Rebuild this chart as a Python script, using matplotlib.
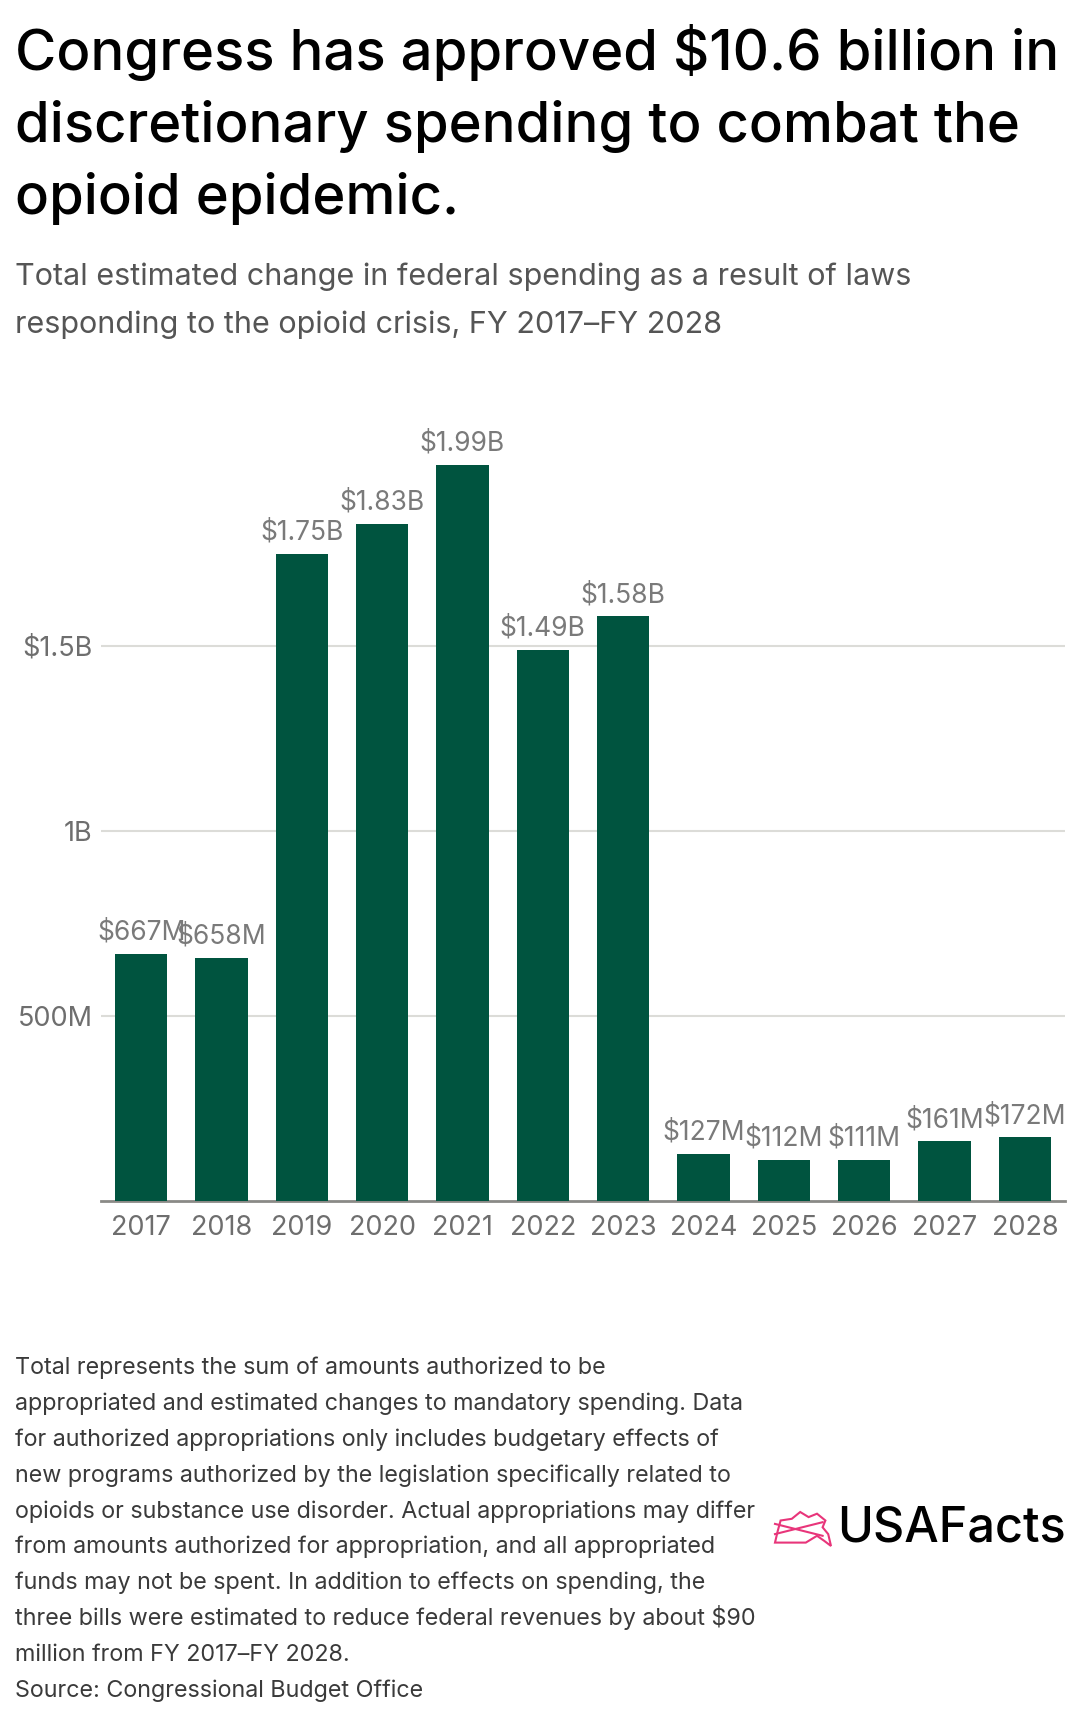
import matplotlib.pyplot as plt
from matplotlib import ticker
from matplotlib.patches import Polygon

years = ['2017', '2018', '2019', '2020', '2021', '2022', '2023', '2024', '2025', '2026', '2027', '2028']
spending = [667e6, 658e6, 1.75e9, 1.83e9, 1.99e9, 1.49e9, 1.58e9, 127e6, 112e6, 111e6, 161e6, 172e6]
bar_labels = ['$667M', '$658M', '$1.75B', '$1.83B', '$1.99B', '$1.49B', '$1.58B',
              '$127M', '$112M', '$111M', '$161M', '$172M']
y_ticks = [500e6, 1e9, 1.5e9]
y_tick_labels = ['500M', '1B', '$1.5B']

title_lines = ['Congress has approved $10.6 billion in',
               'discretionary spending to combat the',
               'opioid epidemic.']
subtitle_lines = ['Total estimated change in federal spending as a result of laws',
                  'responding to the opioid crisis, FY 2017\u2013FY 2028']
footnote_lines = ['Total represents the sum of amounts authorized to be',
                  'appropriated and estimated changes to mandatory spending. Data',
                  'for authorized appropriations only includes budgetary effects of',
                  'new programs authorized by the legislation specifically related to',
                  'opioids or substance use disorder. Actual appropriations may differ',
                  'from amounts authorized for appropriation, and all appropriated',
                  'funds may not be spent. In addition to effects on spending, the',
                  'three bills were estimated to reduce federal revenues by about $90',
                  'million from FY 2017\u2013FY 2028.',
                  'Source: Congressional Budget Office']

BAR = '#00543f'
GREY = '#6e6e6e'
W, H = 1080, 1722

plt.rcParams['font.family'] = ['Inter', 'DejaVu Sans']
plt.rcParams['text.parse_math'] = False

fig = plt.figure(figsize=(W / 100, H / 100), dpi=100)
ax = fig.add_axes([101 / W, 521 / H, (1065 - 101) / W, 814 / H])

bars = ax.bar(years, spending, width=0.65, color=BAR, zorder=3)
ax.bar_label(bars, bar_labels, padding=6, color='#7a7a7a', fontsize=19)

ax.set_ylim(0, 2.2e9)
ax.set_xlim(-0.5, len(years) - 0.5)
ax.set_yticks(y_ticks)
ax.yaxis.set_major_formatter(ticker.FixedFormatter(y_tick_labels))
ax.grid(axis='y', color='#dcdcd8', linewidth=1.5, zorder=0)
for side in ['top', 'right', 'left']:
    ax.spines[side].set_visible(False)
ax.spines['bottom'].set_color('#8a8a86')
ax.spines['bottom'].set_linewidth(2)
ax.tick_params(axis='both', length=0, labelsize=19.5, labelcolor=GREY)
ax.tick_params(axis='y', pad=6)
ax.tick_params(axis='x', pad=10)


def text_block(lines, top, step, **kw):
    # one fig.text per line so every line gets the same spacing
    for i, line in enumerate(lines):
        fig.text(15 / W, 1 - (top + i * step) / H, line, va='baseline', ha='left', **kw)


text_block(title_lines, 70, 72, fontsize=40.5, fontweight='medium', color='black')
text_block(subtitle_lines, 285, 48, fontsize=22, color='#555555')
text_block(footnote_lines, 1374, 35.9, fontsize=16.8, color='#3a3a3a')

# logo
fig.text(1066 / W, 1 - 1528 / H, 'USAFacts', fontsize=35, fontweight='medium', color='black',
         va='center', ha='right')
lx, ly, lw, lh = 775, 1512, 56, 34
outline = [(0.0, 0.1), (0.55, 0.1), (0.75, 0.3), (0.88, 0.15), (1.0, 0.0), (0.95, 0.35),
           (0.85, 0.55), (0.9, 0.75), (0.75, 0.95), (0.6, 0.85), (0.45, 1.0), (0.3, 0.8),
           (0.1, 0.75), (0.05, 0.45), (0.0, 0.1)]
pts = [((lx + x * lw) / W, 1 - (ly + (1 - y) * lh) / H) for x, y in outline]
fig.patches.append(Polygon(pts, closed=True, fill=False, edgecolor='#e8357a', linewidth=1.5,
                           transform=fig.transFigure, figure=fig))
for y0, y1 in [(0.65, 0.3), (0.35, 0.7)]:
    fig.lines.append(plt.Line2D([(lx) / W, (lx + lw * 0.85) / W],
                                [1 - (ly + (1 - y0) * lh) / H, 1 - (ly + (1 - y1) * lh) / H],
                                color='#e8357a', linewidth=1.5, transform=fig.transFigure))

fig.savefig('out.png', dpi=100)
